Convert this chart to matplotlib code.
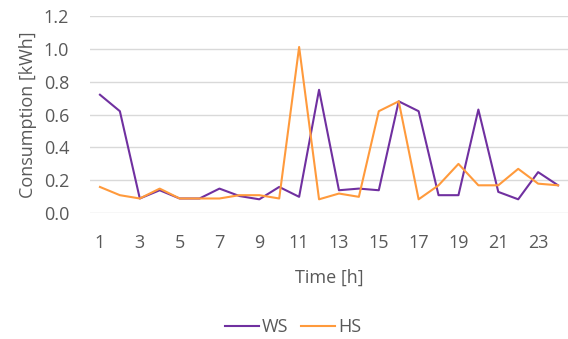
import numpy as np
import matplotlib.pyplot as plt

plt.rcParams['font.family'] = ['Open Sans', 'DejaVu Sans']

hours = list(range(1, 25))
ws = [0.72, 0.62, 0.09, 0.14, 0.09, 0.09, 0.15, 0.105, 0.085, 0.16, 0.10, 0.75,
      0.14, 0.15, 0.14, 0.68, 0.62, 0.11, 0.11, 0.63, 0.13, 0.085, 0.25, 0.17]
hs = [0.16, 0.11, 0.09, 0.15, 0.09, 0.09, 0.09, 0.11, 0.11, 0.09, 1.01, 0.085,
      0.12, 0.10, 0.62, 0.68, 0.085, 0.17, 0.30, 0.17, 0.17, 0.27, 0.18, 0.17]

grey = '#595959'
fs = 13
fig = plt.figure(figsize=(5.68, 3.39), dpi=100)
ax = fig.add_axes([90 / 568, 1 - 213.3 / 339, 478 / 568, 197.6 / 339])

ax.plot(hours, ws, color='#7030A0', lw=1.5, label='WS')
ax.plot(hours, hs, color='#FF9A3C', lw=1.5, label='HS')

ax.set_xlim(0.5, 24.5)
ax.set_ylim(0, 1.2)
yt = np.arange(0, 1.21, 0.2)
ax.set_yticks(yt)
ax.set_yticklabels(['%.1f' % v for v in yt])
ax.set_xticks(hours[::2])
ax.grid(axis='y', color='#D9D9D9', lw=1)
ax.set_axisbelow(True)
for s in ax.spines.values():
    s.set_visible(False)
ax.tick_params(length=0, colors=grey, labelsize=fs)
ax.tick_params(axis='x', pad=15)
ax.tick_params(axis='y', pad=15)

ax.set_xlabel('Time [h]', color=grey, fontsize=fs, labelpad=12)
ax.set_ylabel('Consumption [kWh]', color=grey, fontsize=fs, labelpad=5)

fig.legend(loc='center', bbox_to_anchor=(293 / 568, 1 - 327 / 339), ncol=2,
           frameon=False, fontsize=fs, labelcolor=grey, handlelength=1.9,
           handletextpad=0.15, columnspacing=0.7)

fig.savefig('out.png', dpi=100)
